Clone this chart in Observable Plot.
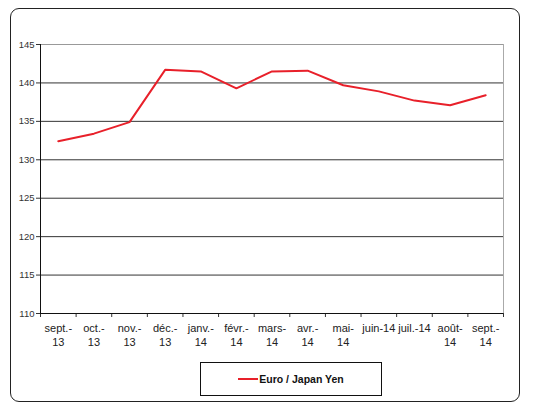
<!DOCTYPE html>
<html><head><meta charset="utf-8">
<script src="https://cdn.jsdelivr.net/npm/d3@7"></script>
<script src="https://cdn.jsdelivr.net/npm/@observablehq/plot@0.6"></script>
<style>
html,body{margin:0;padding:0;background:#fff;}
#wrap{position:relative;width:543px;height:405px;font-family:"Liberation Sans",Arial,sans-serif;}
#frame{position:absolute;left:10px;top:8px;width:510px;height:394px;border:1px solid #222;border-radius:9px;box-sizing:border-box;}
#chart{position:absolute;left:0;top:0;}
#legend{position:absolute;left:200px;top:362px;width:182px;height:34px;border:1px solid #111;box-sizing:border-box;display:flex;align-items:center;justify-content:center;font-size:10.5px;font-weight:bold;color:#111;}
#legend span.sw{display:inline-block;width:20px;height:2px;background:#e8202a;margin-right:1px;}
</style></head>
<body><div id="wrap"><div id="frame"></div><div id="chart"></div><div id="legend"><span class="sw"></span>Euro / Japan Yen</div></div>
<script>
const months = ["sept.-\n13","oct.-\n13","nov.-\n13","déc.-\n13","janv.-\n14","févr.-\n14","mars-\n14","avr.-\n14","mai-\n14","juin-14","juil.-14","août-\n14","sept.-\n14"];
const values = [132.4,133.4,134.9,141.7,141.5,139.3,141.5,141.6,139.7,138.9,137.7,137.1,138.4];
const yTicks = [110,115,120,125,130,135,140,145];
const idx = months.map((_, i) => i);
const edges = d3.range(-0.5, months.length, 1);
const data = values.map((v, i) => ({i, v}));

const chart = Plot.plot({
  width: 543, height: 350,
  marginLeft: 40, marginRight: 40, marginTop: 44, marginBottom: 37,
  style: {fontFamily: '"Liberation Sans", Arial, sans-serif', background: "transparent", overflow: "visible"},
  x: {type: "linear", domain: [-0.5, months.length - 0.5], label: null},
  y: {domain: [110, 145], label: null},
  marks: [
    Plot.gridY(yTicks.filter(t => t > 110 && t < 145), {stroke: "#333", strokeOpacity: 1, strokeWidth: 1}),
    Plot.ruleY([145], {stroke: "#999", strokeWidth: 1}),
    Plot.ruleX([months.length - 0.5], {stroke: "#aaa", strokeWidth: 1}),
    Plot.axisY({ticks: yTicks, tickSize: 4, tickPadding: 2, fontSize: 9.5, stroke: "#333", fill: "#333", label: null}),
    Plot.axisX({ticks: edges, tickSize: 4, tickFormat: () => "", stroke: "#333", label: null}),
    Plot.axisX({ticks: idx, tickSize: 0, tickPadding: 9, fontSize: 11, fill: "#222", tickFormat: i => months[i], lineHeight: 1.25, label: null}),
    Plot.ruleX([-0.5], {stroke: "#111", strokeWidth: 1}),
    Plot.ruleY([110], {stroke: "#111", strokeWidth: 1}),
    Plot.line(data, {x: "i", y: "v", stroke: "#e8202a", strokeWidth: 2})
  ]
});
document.getElementById("chart").appendChild(chart);
</script></body></html>
